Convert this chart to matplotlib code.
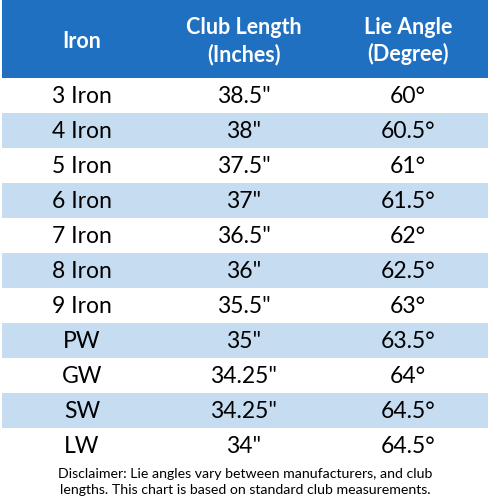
import matplotlib
matplotlib.use("Agg")
import matplotlib.pyplot as plt
from matplotlib.patches import Rectangle

headers = ["Iron", "Club Length\n(Inches)", "Lie Angle\n(Degree)"]
irons = ["3 Iron", "4 Iron", "5 Iron", "6 Iron", "7 Iron", "8 Iron", "9 Iron", "PW", "GW", "SW", "LW"]
lengths = ['38.5"', '38"', '37.5"', '37"', '36.5"', '36"', '35.5"', '35"', '34.25"', '34.25"', '34"']
angles = ["60°", "60.5°", "61°", "61.5°", "62°", "62.5°", "63°", "63.5°", "64°", "64.5°", "64.5°"]
disclaimer = "Disclaimer: Lie angles vary between manufacturers, and club\nlengths. This chart is based on standard club measurements."

plt.rcParams['font.family'] = ['Lato', 'DejaVu Sans']
fig = plt.figure(figsize=(4.9, 5.0), dpi=100)
ax = fig.add_axes([0, 0, 1, 1])
ax.set_xlim(0, 490)
ax.set_ylim(500, 0)
ax.axis('off')

left, right = 2, 488
head_h = 78
row_h = 35
col_x = [82, 244, 408]
ax.add_patch(Rectangle((left, 0), right - left, head_h, color='#1f70c1', lw=0))
for i, h in enumerate(headers):
    ax.text(col_x[i], head_h / 2 + 2, h, ha='center', va='center', color='white',
            fontsize=15.5, fontweight='bold', linespacing=1.3)
for r in range(len(irons)):
    y0 = head_h + r * row_h
    if r % 2 == 1:
        ax.add_patch(Rectangle((left, y0), right - left, row_h, color='#c6dcf1', lw=0))
    yc = y0 + row_h / 2 + 1
    for i, val in enumerate([irons[r], lengths[r], angles[r]]):
        ax.text(col_x[i], yc, val, ha='center', va='center', color='black', fontsize=16.5)
ax.text(245, 482, disclaimer, ha='center', va='center', fontsize=10.2, linespacing=1.45)
fig.savefig("out.png", dpi=100)
